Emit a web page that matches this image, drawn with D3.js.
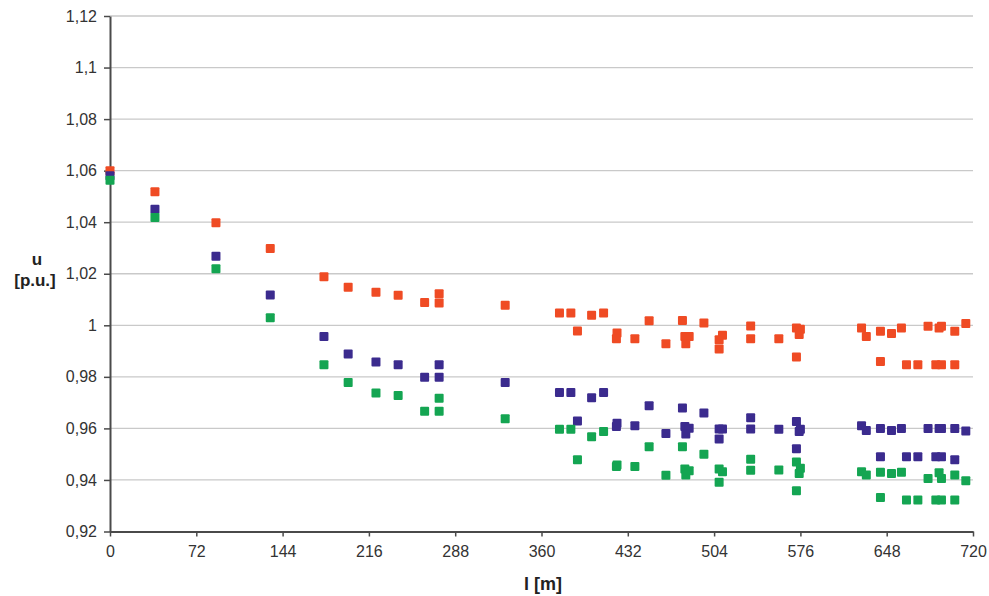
<!DOCTYPE html>
<html>
<head>
<meta charset="utf-8">
<script src="https://cdn.jsdelivr.net/npm/d3@7"></script>
<style>
  body { margin: 0; background: #fff; }
  svg { font-family: "Liberation Sans", Arial, sans-serif; }
</style>
</head>
<body>
<div id="chart"></div>
<script>
// distance along the feeder [m], one entry per measured node
const lengths = [
  0, 37.5, 88.4, 133.7, 178.5, 198.7, 221.9, 240.4, 262.5, 274.6,
  274.6, 329.7, 375, 384.5, 390, 401.8, 411.8, 423, 422.5, 437.9,
  449.8, 463.8, 477.6, 479.6, 483.2, 480.4, 495.5, 508.2, 511, 508.2,
  534.5, 534.5, 558, 572.7, 576, 575, 572.7, 627, 631, 642.8,
  642.8, 652, 660.3, 664.5, 674, 682.5, 691.7, 693.7, 689, 693.7,
  704.8, 704.8, 714
];

// voltage [p.u.] per node for the three cases
const uRed = [
  1.060, 1.0518, 1.0398, 1.0298, 1.0188, 1.0148, 1.0128, 1.0117, 1.0088, 1.0122,
  1.0087, 1.0078, 1.0048, 1.0048, 0.9978, 1.0039, 1.0048, 0.997, 0.9948, 0.9948,
  1.0018, 0.9928, 1.0019, 0.9957, 0.9957, 0.9928, 1.0009, 0.9944, 0.9961, 0.9908,
  0.9997, 0.9948, 0.9948, 0.999, 0.9985, 0.9964, 0.9877, 0.999, 0.9957, 0.9977,
  0.986, 0.9968, 0.999, 0.9847, 0.9847, 0.9996, 0.999, 0.9996, 0.9847, 0.9847,
  0.9977, 0.9847, 1.0007
];
const uBlue = [
  1.058, 1.045, 1.0268, 1.0118, 0.9957, 0.9889, 0.9858, 0.9847, 0.9798, 0.9847,
  0.9798, 0.9778, 0.9739, 0.9739, 0.9629, 0.9719, 0.9739, 0.962, 0.9607, 0.961,
  0.9688, 0.958, 0.9679, 0.9607, 0.9601, 0.9578, 0.966, 0.9598, 0.9598, 0.9559,
  0.9641, 0.9598, 0.9597, 0.9627, 0.9597, 0.9588, 0.9521, 0.961, 0.9592, 0.96,
  0.949, 0.9592, 0.96, 0.949, 0.949, 0.96, 0.96, 0.96, 0.949, 0.949,
  0.96, 0.9478, 0.959
];
const uGreen = [
  1.0563, 1.0418, 1.0219, 1.0029, 0.9847, 0.9778, 0.9737, 0.9728, 0.9667, 0.9717,
  0.9667, 0.9637, 0.9597, 0.9597, 0.9478, 0.9568, 0.9588, 0.9458, 0.9452, 0.9452,
  0.9529, 0.9418, 0.9529, 0.9442, 0.9436, 0.9419, 0.95, 0.9442, 0.9432, 0.9391,
  0.948, 0.9438, 0.9439, 0.947, 0.9445, 0.9425, 0.9358, 0.9432, 0.9419, 0.943,
  0.9332, 0.9425, 0.943, 0.9322, 0.9322, 0.9406, 0.9428, 0.9406, 0.9322, 0.9322,
  0.9419, 0.9322, 0.9397
];

const xTicks = [0, 72, 144, 216, 288, 360, 432, 504, 576, 648, 720];
const yTicks = [0.92, 0.94, 0.96, 0.98, 1.0, 1.02, 1.04, 1.06, 1.08, 1.1, 1.12];

const series = [
  {name: "red", values: uRed, color: "#ef4b24"},
  {name: "blue", values: uBlue, color: "#3b2b8e"},
  {name: "green", values: uGreen, color: "#14a552"}
];

const width = 989, height = 596;
const margin = {top: 16, right: 16, bottom: 64.5, left: 110};
const innerW = width - margin.left - margin.right;
const innerH = height - margin.top - margin.bottom;

const svg = d3.select("#chart").append("svg")
  .attr("width", width)
  .attr("height", height);

const g = svg.append("g")
  .attr("transform", "translate(" + margin.left + "," + margin.top + ")");

const x = d3.scaleLinear().domain([0, 720]).range([0, innerW]);
const y = d3.scaleLinear().domain([0.92, 1.12]).range([innerH, 0]);

const fmt = v => String(+v.toFixed(2)).replace(".", ",");

// horizontal grid
g.append("g")
  .selectAll("line")
  .data(yTicks.slice(1))
  .join("line")
  .attr("x1", 0)
  .attr("x2", innerW)
  .attr("y1", d => y(d))
  .attr("y2", d => y(d))
  .attr("stroke", "#c9c9c9")
  .attr("stroke-width", 1.3);

// y axis
const yAxis = g.append("g")
  .call(d3.axisLeft(y).tickValues(yTicks).tickFormat(fmt).tickSizeInner(6).tickSizeOuter(0).tickPadding(7));

// x axis
const xAxis = g.append("g")
  .attr("transform", "translate(0," + innerH + ")")
  .call(d3.axisBottom(x).tickValues(xTicks).tickFormat(d3.format("d")).tickSizeInner(5).tickSizeOuter(0).tickPadding(9));

[yAxis, xAxis].forEach(a => {
  a.select(".domain").attr("stroke", "#4a4a4a").attr("stroke-width", 2);
  a.selectAll(".tick line").attr("stroke", "#4a4a4a").attr("stroke-width", 1.5);
  a.selectAll(".tick text")
    .attr("fill", "#333")
    .style("font-size", "16px")
    .style("font-family", "'Liberation Sans', Arial, sans-serif");
});

// markers
const size = 9;
series.forEach(s => {
  g.append("g")
    .attr("id", "series_" + s.name)
    .selectAll("rect")
    .data(s.values.map((v, i) => ({l: lengths[i], u: v})))
    .join("rect")
    .attr("x", d => x(d.l) - size / 2)
    .attr("y", d => y(d.u) - size / 2)
    .attr("width", size)
    .attr("height", size)
    .attr("rx", 1)
    .attr("fill", s.color);
});

// axis titles
svg.append("text")
  .attr("x", 37)
  .attr("y", 265)
  .attr("text-anchor", "middle")
  .attr("font-weight", "bold")
  .attr("font-size", 17)
  .attr("fill", "#222")
  .text("u");

svg.append("text")
  .attr("x", 35)
  .attr("y", 286)
  .attr("text-anchor", "middle")
  .attr("font-weight", "bold")
  .attr("font-size", 17)
  .attr("fill", "#222")
  .text("[p.u.]");

svg.append("text")
  .attr("x", 543)
  .attr("y", 590)
  .attr("text-anchor", "middle")
  .attr("font-weight", "bold")
  .attr("font-size", 18)
  .attr("fill", "#222")
  .text("l [m]");
</script>
</body>
</html>
